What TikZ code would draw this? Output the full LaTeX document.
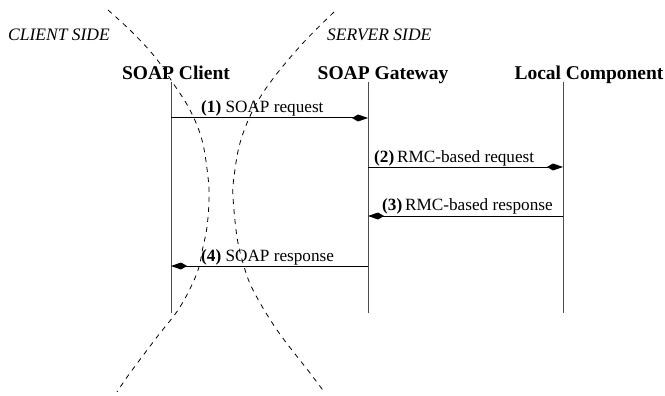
\documentclass[tikz,border=0pt]{standalone}
\usepackage{fontspec}
\setmainfont{Liberation Serif}
\usetikzlibrary{arrows.meta}
\begin{document}
\begin{tikzpicture}[x=1pt,y=-1pt,
  title/.style={font=\fontsize{19.5}{22}\selectfont\bfseries, inner sep=0pt, anchor=base},
  side/.style={font=\fontsize{17.5}{20}\selectfont\itshape, inner sep=0pt, anchor=base west},
  msglabel/.style={font=\fontsize{17.2}{20}\selectfont, inner sep=0pt, anchor=base west},
  lifeline/.style={draw=black!70, line width=1pt},
  msg/.style={draw=black, line width=1pt, -{Kite[length=16pt,width=7pt,inset=6pt]}},
  border/.style={dashed, dash pattern=on 5pt off 5pt, line width=0.8pt}]
\useasboundingbox (0,0) rectangle (665,396);

% participants
\node[title] (tc) at (176,80) {SOAP Client};
\node[title] (tg) at (383,80) {SOAP Gateway};
\node[title] (tl) at (589,80) {Local Component};

% lifelines
\coordinate (ctop) at (171,82);  \coordinate (cbot) at (171,313);
\coordinate (gtop) at (368,82);  \coordinate (gbot) at (368,313);
\coordinate (ltop) at (563,82);  \coordinate (lbot) at (563,313);
\draw[lifeline] (ctop) -- (cbot);
\draw[lifeline] (gtop) -- (gbot);
\draw[lifeline] (ltop) -- (lbot);

% message end points
\coordinate (c1) at (171,118); \coordinate (g1) at (368,118);
\coordinate (g2) at (368,167); \coordinate (l2) at (563,167);
\coordinate (l3) at (563,216); \coordinate (g3) at (368,216);
\coordinate (g4) at (368,266); \coordinate (c4) at (171,266);

\draw[msg] (c1) -- (g1);
\draw[msg] (g2) -- (l2);
\draw[msg] (l3) -- (g3);
\draw[msg] (g4) -- (c4);

\node[msglabel] (m1) at (201,113) {\textbf{(1)} SOAP request};
\node[msglabel] (m2) at (374,162) {\textbf{(2)}\,RMC-based request};
\node[msglabel] (m3) at (382,211) {\textbf{(3)}\,RMC-based response};
\node[msglabel] (m4) at (201,261) {\textbf{(4)} SOAP response};

% client / server boundary
\draw[border] plot[smooth, tension=0.6] coordinates
  {(108,10) (132,32) (155,57) (173,83) (190,110) (202,140) (208,177) (209,200)
   (207,227) (203,247) (197,273) (180,307) (157,337) (130,373) (117,392)};
\draw[border] plot[smooth, tension=0.6] coordinates
  {(334,12) (303,43) (272,80) (253,110) (240,143) (234,177) (233,197)
   (237,237) (243,263) (253,290) (277,330) (310,373) (325,393)};

\node[side] (cs) at (8,41) {CLIENT SIDE};
\node[side] (ss) at (327,41) {SERVER SIDE};
\end{tikzpicture}
\end{document}
